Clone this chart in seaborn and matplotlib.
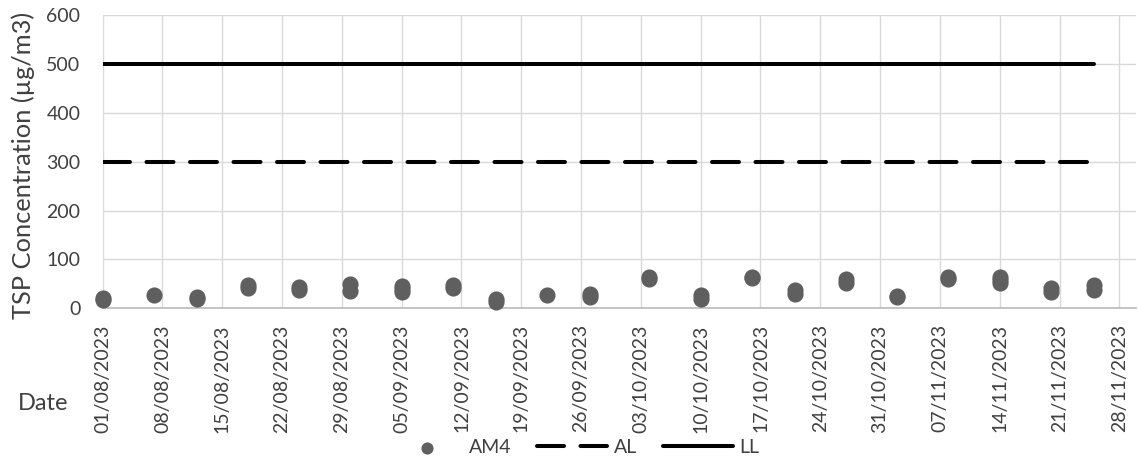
import matplotlib
matplotlib.use("Agg")
import matplotlib.pyplot as plt
import pandas as pd
import seaborn as sns

# AM4 TSP samples (µg/m3); a date appears once per reading taken that day
am4_dates = [
    "2023-08-01", "2023-08-01",
    "2023-08-07",
    "2023-08-12", "2023-08-12",
    "2023-08-18", "2023-08-18",
    "2023-08-24", "2023-08-24",
    "2023-08-30", "2023-08-30",
    "2023-09-05", "2023-09-05", "2023-09-05",
    "2023-09-11", "2023-09-11",
    "2023-09-16", "2023-09-16",
    "2023-09-22",
    "2023-09-27", "2023-09-27",
    "2023-10-04", "2023-10-04",
    "2023-10-10", "2023-10-10",
    "2023-10-16", "2023-10-16",
    "2023-10-21", "2023-10-21",
    "2023-10-27", "2023-10-27",
    "2023-11-02", "2023-11-02",
    "2023-11-08", "2023-11-08",
    "2023-11-14", "2023-11-14", "2023-11-14",
    "2023-11-20", "2023-11-20",
    "2023-11-25", "2023-11-25",
]
am4_values = [
    21, 16,
    27,
    23, 20,
    48, 42,
    43, 37,
    50, 35,
    45, 39, 34,
    48, 42,
    19, 13,
    27,
    30, 23,
    65, 59,
    27, 20,
    65, 61,
    38, 30,
    60, 52,
    26, 23,
    63, 59,
    64, 58, 52,
    42, 33,
    47, 37,
]

# Limit lines
limit_dates = ["2023-08-01", "2023-11-25"]
al_values = [300, 300]
ll_values = [500, 500]

tick_labels = [
    "01/08/2023", "08/08/2023", "15/08/2023", "22/08/2023", "29/08/2023",
    "05/09/2023", "12/09/2023", "19/09/2023", "26/09/2023", "03/10/2023",
    "10/10/2023", "17/10/2023", "24/10/2023", "31/10/2023", "07/11/2023",
    "14/11/2023", "21/11/2023", "28/11/2023",
]
y_ticks = [0, 100, 200, 300, 400, 500, 600]

sns.set_theme(style="white")
plt.rcParams["font.family"] = ["Lato", "DejaVu Sans"]
text_color = "#404040"
grid_color = "#d9d9d9"
fs_tick = 14
fs_title = 17
fs_ytitle = 18.3

fig = plt.figure(figsize=(11.38, 4.57), dpi=100)
ax = fig.add_axes([0.0902, 0.3254, 0.9084, 0.6418])

am4 = pd.DataFrame({"date": pd.to_datetime(am4_dates), "tsp": am4_values})
limits = pd.DataFrame({"date": pd.to_datetime(limit_dates), "AL": al_values, "LL": ll_values})

sns.scatterplot(data=am4, x="date", y="tsp", ax=ax, s=135, color="#5f5f5f",
                linewidth=0, label="AM4", zorder=4, clip_on=False)
sns.lineplot(data=limits, x="date", y="AL", ax=ax, color="black", lw=2.9,
             linestyle=(0, (6.7, 4.1)), dash_capstyle="round", label="AL", zorder=3)
sns.lineplot(data=limits, x="date", y="LL", ax=ax, color="black", lw=2.9,
             solid_capstyle="round", label="LL", zorder=3)

tick_dates = pd.to_datetime(tick_labels, format="%d/%m/%Y")
ax.set_xticks(tick_dates)
ax.set_xticklabels(tick_labels, rotation=90, ha="center", va="top")
ax.set_xlim(pd.Timestamp("2023-08-01"), pd.Timestamp("2023-11-30"))
ax.set_ylim(0, 600)
ax.set_yticks(y_ticks)

ax.grid(True, color=grid_color, lw=1.0)
ax.set_axisbelow(True)
for side in ["top", "right", "left"]:
    ax.spines[side].set_visible(False)
ax.spines["bottom"].set_color("#bfbfbf")
ax.spines["bottom"].set_linewidth(1.3)
ax.spines["bottom"].set_zorder(2)

ax.tick_params(axis="x", length=0, pad=11.5, labelsize=fs_tick, labelcolor=text_color)
ax.tick_params(axis="y", length=0, pad=16, labelsize=fs_tick, labelcolor=text_color)

ax.set_xlabel("")
ax.set_ylabel("TSP Concentration (µg/m3)", fontsize=fs_ytitle, color=text_color)
ax.yaxis.label.set_va("center")
ax.yaxis.set_label_coords(-0.077, 0.487)

fig.text(43.5 / 1138, 1 - 403 / 457, "Date", ha="center", va="center",
         fontsize=fs_title, color=text_color)

handles, labels = ax.get_legend_handles_labels()
ax.get_legend().remove()
fig.legend(handles, labels, loc="center", bbox_to_anchor=(576 / 1138, 1 - 447.5 / 457),
           ncol=3, frameon=False, fontsize=fs_tick, labelcolor=text_color,
           handlelength=3.6, handletextpad=0.36, columnspacing=1.3,
           markerscale=0.75, borderpad=0, borderaxespad=0)

fig.savefig("out.png", dpi=100)
